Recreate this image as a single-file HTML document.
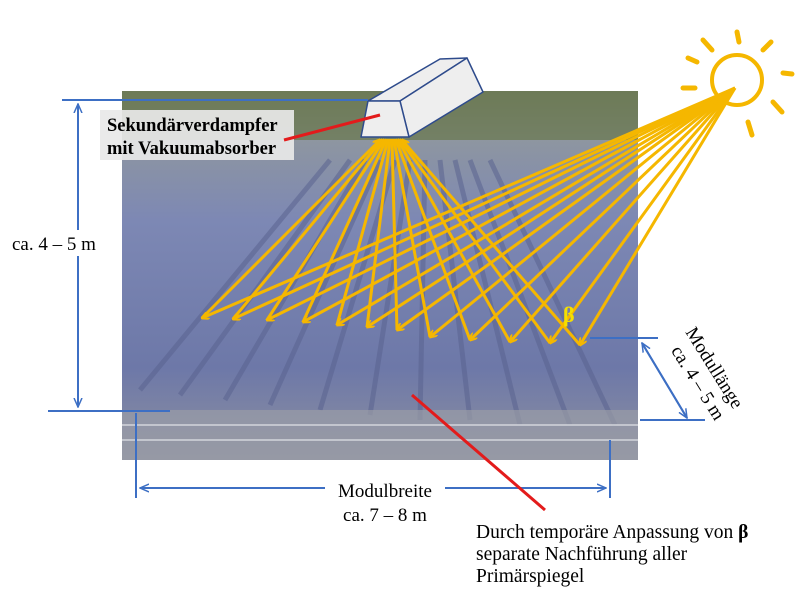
<!DOCTYPE html>
<html><head><meta charset="utf-8"><style>
html,body{margin:0;padding:0;background:#fff;}
svg{display:block;font-family:"Liberation Serif",serif;}
</style></head><body>
<svg width="798" height="602" viewBox="0 0 798 602" xmlns="http://www.w3.org/2000/svg">
<defs>
<linearGradient id="bg" x1="0" y1="0" x2="0" y2="1">
<stop offset="0" stop-color="#6f7a5a"/><stop offset="0.13" stop-color="#8e96a0"/>
<stop offset="0.35" stop-color="#7d88b4"/><stop offset="0.75" stop-color="#6d78a8"/><stop offset="1" stop-color="#8d90a0"/>
</linearGradient>
<marker id="a" markerWidth="8" markerHeight="8" refX="7" refY="4" orient="auto" markerUnits="userSpaceOnUse"><path d="M0,0 L8,4 L0,8" fill="none" stroke="#f5b700" stroke-width="2"/></marker>
<marker id="b" markerWidth="10" markerHeight="10" refX="9" refY="5" orient="auto" markerUnits="userSpaceOnUse"><path d="M0,1 L9,5 L0,9" fill="none" stroke="#3d6fc4" stroke-width="1.5"/></marker>
</defs>
<rect x="122" y="91" width="516" height="369" fill="url(#bg)"/>
<rect x="122" y="91" width="516" height="49" fill="#6d7a56" opacity="0.8"/>
<g stroke="#5a6390" stroke-width="5" opacity="0.55">
<line x1="140" y1="390" x2="330" y2="160"/><line x1="180" y1="395" x2="350" y2="160"/>
<line x1="225" y1="400" x2="365" y2="160"/><line x1="270" y1="405" x2="380" y2="160"/>
<line x1="320" y1="410" x2="395" y2="160"/><line x1="370" y1="415" x2="410" y2="160"/>
<line x1="420" y1="420" x2="425" y2="160"/><line x1="470" y1="420" x2="440" y2="160"/>
<line x1="520" y1="425" x2="455" y2="160"/><line x1="570" y1="425" x2="470" y2="160"/>
<line x1="615" y1="425" x2="490" y2="160"/>
</g>
<rect x="122" y="410" width="516" height="50" fill="#9a9ca6" opacity="0.7"/>
<g stroke="#d8dae0" stroke-width="2" opacity="0.7"><line x1="122" y1="425" x2="638" y2="425"/><line x1="122" y1="440" x2="638" y2="440"/></g>
<g fill="#eeeeee" stroke="#2e4b8c" stroke-width="1.5" stroke-linejoin="round">
<polygon points="368,101 440,59 467,58 400,101"/>
<polygon points="400,101 467,58 483,92 409,137"/>
<polygon points="368,101 400,101 409,137 361,137"/>
</g>
<rect x="100" y="110" width="194" height="50" fill="#e8e8e8" opacity="0.92"/>
<text x="107" y="131" font-size="18.5" font-weight="bold">Sekundärverdampfer</text>
<text x="107" y="154" font-size="18.5" font-weight="bold">mit Vakuumabsorber</text>
<line x1="284" y1="140" x2="380" y2="115" stroke="#e31b1b" stroke-width="3"/>
<g stroke="#f5b700" stroke-width="3" fill="none">
<line x1="735" y1="88" x2="202" y2="318" marker-end="url(#a)"/><line x1="202" y1="318" x2="380" y2="140" marker-end="url(#a)"/>
<line x1="735" y1="88" x2="233" y2="319" marker-end="url(#a)"/><line x1="233" y1="319" x2="382" y2="140" marker-end="url(#a)"/>
<line x1="735" y1="88" x2="267" y2="320" marker-end="url(#a)"/><line x1="267" y1="320" x2="384" y2="140" marker-end="url(#a)"/>
<line x1="735" y1="88" x2="303" y2="322" marker-end="url(#a)"/><line x1="303" y1="322" x2="386" y2="140" marker-end="url(#a)"/>
<line x1="735" y1="88" x2="337" y2="325" marker-end="url(#a)"/><line x1="337" y1="325" x2="388" y2="140" marker-end="url(#a)"/>
<line x1="735" y1="88" x2="367" y2="327" marker-end="url(#a)"/><line x1="367" y1="327" x2="390" y2="140" marker-end="url(#a)"/>
<line x1="735" y1="88" x2="397" y2="330" marker-end="url(#a)"/><line x1="397" y1="330" x2="392" y2="140" marker-end="url(#a)"/>
<line x1="735" y1="88" x2="430" y2="337" marker-end="url(#a)"/><line x1="430" y1="337" x2="394" y2="140" marker-end="url(#a)"/>
<line x1="735" y1="88" x2="470" y2="340" marker-end="url(#a)"/><line x1="470" y1="340" x2="396" y2="140" marker-end="url(#a)"/>
<line x1="735" y1="88" x2="510" y2="342" marker-end="url(#a)"/><line x1="510" y1="342" x2="398" y2="140" marker-end="url(#a)"/>
<line x1="735" y1="88" x2="550" y2="343" marker-end="url(#a)"/><line x1="550" y1="343" x2="400" y2="140" marker-end="url(#a)"/>
<line x1="735" y1="88" x2="580" y2="345" marker-end="url(#a)"/><line x1="580" y1="345" x2="402" y2="140" marker-end="url(#a)"/>
</g>
<text x="563" y="322" font-size="22" font-weight="bold" fill="#f5e000">β</text>
<g stroke="#f5b700" stroke-width="5" stroke-linecap="round" fill="none">
<circle cx="737" cy="80" r="25" stroke-width="4"/>
<line x1="737" y1="32" x2="739" y2="42"/><line x1="703" y1="40" x2="712" y2="50"/><line x1="771" y1="42" x2="763" y2="50"/>
<line x1="688" y1="58" x2="697" y2="62"/><line x1="783" y1="73" x2="792" y2="74"/><line x1="683" y1="88" x2="695" y2="88"/>
<line x1="773" y1="102" x2="782" y2="112"/><line x1="748" y1="122" x2="752" y2="135"/>
</g>
<g stroke="#3d6fc4" stroke-width="2" fill="none">
<line x1="62" y1="100" x2="368" y2="100"/>
<line x1="48" y1="411" x2="170" y2="411"/>
<line x1="78" y1="104" x2="78" y2="407" marker-end="url(#b)"/>
<line x1="78" y1="407" x2="78" y2="104" marker-end="url(#b)"/>
<line x1="136" y1="413" x2="136" y2="498"/>
<line x1="610" y1="440" x2="610" y2="498"/>
<line x1="140" y1="488" x2="606" y2="488" marker-end="url(#b)"/>
<line x1="606" y1="488" x2="140" y2="488" marker-end="url(#b)"/>
<line x1="590" y1="338" x2="658" y2="338"/>
<line x1="640" y1="420" x2="705" y2="420"/>
<line x1="642" y1="343" x2="687" y2="418" marker-end="url(#b)"/>
<line x1="687" y1="418" x2="642" y2="343" marker-end="url(#b)"/>
</g>
<rect x="325" y="477" width="120" height="24" fill="#fff"/>
<rect x="10" y="230" width="108" height="26" fill="#fff"/>
<text x="12" y="250" font-size="19">ca. 4 – 5 m</text>
<text x="385" y="497" font-size="19" text-anchor="middle">Modulbreite</text>
<text x="385" y="521" font-size="19" text-anchor="middle">ca. 7 – 8 m</text>
<g transform="translate(685,332) rotate(58)"><text x="0" y="0" font-size="19">Modullänge</text><text x="8" y="22" font-size="19">ca. 4 – 5 m</text></g>
<line x1="412" y1="395" x2="545" y2="510" stroke="#e31b1b" stroke-width="3"/>
<text x="476" y="538" font-size="19.5">Durch temporäre Anpassung von <tspan font-weight="bold">β</tspan></text>
<text x="476" y="560" font-size="19.5">separate Nachführung aller</text>
<text x="476" y="582" font-size="19.5">Primärspiegel</text>
</svg>
</body></html>
